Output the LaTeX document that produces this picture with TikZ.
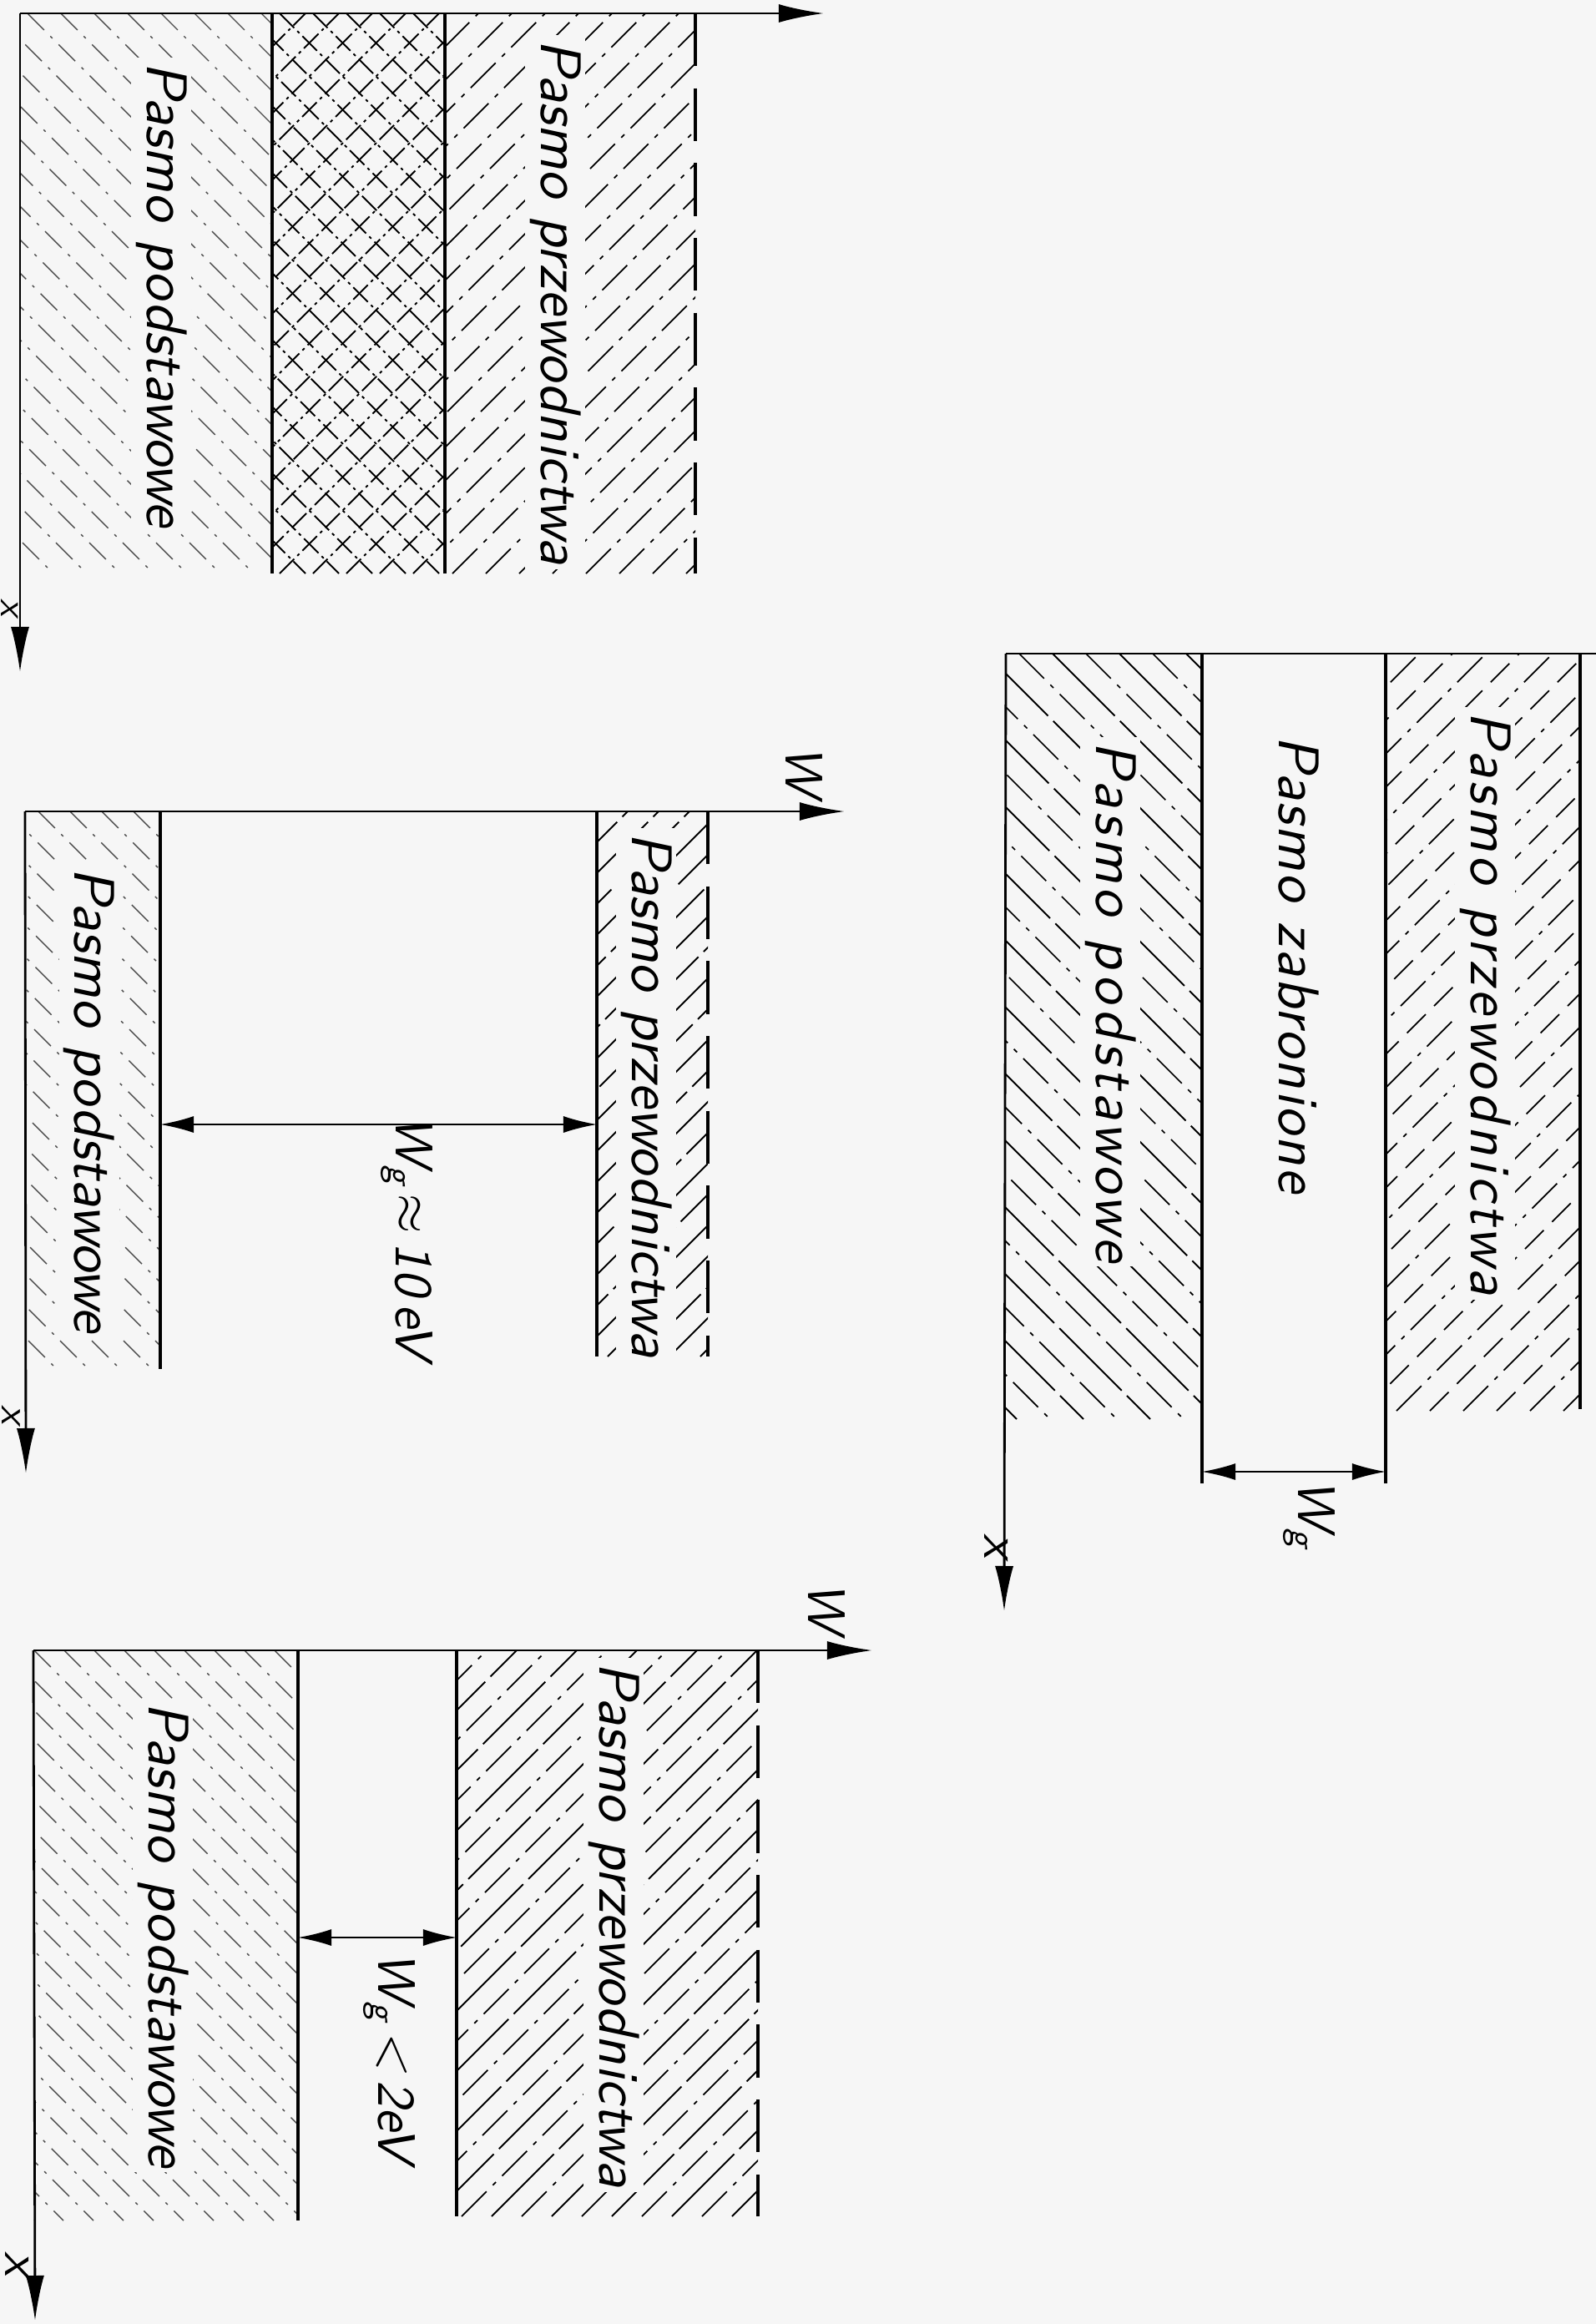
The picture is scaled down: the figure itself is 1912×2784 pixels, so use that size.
\documentclass[tikz,border=0pt]{standalone}
\usepackage{fontspec}
\setsansfont{lmsans10-regular.otf}[ItalicFont=lmsans10-oblique.otf, BoldFont=lmsans10-bold.otf]
\usetikzlibrary{arrows.meta}

\definecolor{paper}{gray}{0.965}

% kreskowanie pasma "\" : x1, y1, x2, y2, odstep, przesuniecie, styl
\newcommand{\hatchback}[7]{%
  \begin{scope}
    \clip (#1,#2) rectangle (#3,#4);
    \pgfmathsetmacro{\hh}{#4-#2}
    \pgfmathsetmacro{\hfirst}{#1-\hh+#6}
    \pgfmathsetmacro{\hsecond}{\hfirst+#5}
    \foreach \hx in {\hfirst,\hsecond,...,#3}
      \draw[#7] (\hx,#2) -- ++(\hh,\hh);
  \end{scope}}
% kreskowanie pasma "/" : x1, y1, x2, y2, odstep, przesuniecie, styl
\newcommand{\hatchfwd}[7]{%
  \begin{scope}
    \clip (#1,#2) rectangle (#3,#4);
    \pgfmathsetmacro{\hh}{#4-#2}
    \pgfmathsetmacro{\hfirst}{#1-\hh+#6}
    \pgfmathsetmacro{\hsecond}{\hfirst+#5}
    \foreach \hx in {\hfirst,\hsecond,...,#3}
      \draw[#7] (\hx,#4) -- ++(\hh,-\hh);
  \end{scope}}

\begin{document}
\begin{tikzpicture}[x=0.01cm, y=-0.01cm,
    axisline/.style={line width=0.8pt, -{Latex[length=0.54cm, width=0.22cm]}},
    bandedge/.style={line width=1.15pt},
    cutedge/.style={line width=1.15pt, dash pattern=on 18pt off 7.5pt},
    dimline/.style={line width=0.5pt, {Latex[length=0.4cm, width=0.2cm]}-{Latex[length=0.4cm, width=0.2cm]}},
    faintdashdot/.style={line width=0.4pt, black!70, dash pattern=on 8pt off 3pt on 1pt off 3pt},
    crossline/.style={line width=0.55pt, dash pattern=on 7pt off 1.5pt on 1pt off 1.5pt},
    hatchsolid/.style={line width=0.55pt, dash pattern=on 30pt off 2.5pt},
    hatchdashdot/.style={line width=0.5pt, dash pattern=on 12pt off 3pt on 1.5pt off 3pt},
    hatchdashed/.style={line width=0.5pt, dash pattern=on 9pt off 4pt},
    bandtext/.style={rotate=-90, inner sep=1.5pt, fill=paper,
      font=\sffamily\itshape\fontsize{19.5}{21}\selectfont},
    axistext/.style={rotate=-90, inner sep=0pt,
      font=\sffamily\itshape\fontsize{18}{20}\selectfont}]

    \fill[paper] (0,0) rectangle (1912,2784);
    \useasboundingbox (0,0) rectangle (1912,2784);

    % ---- Rysunek 1: pasma zachodzace na siebie ----
    \coordinate (o1) at (24,16);
    \coordinate (w1) at (987,16);
    \coordinate (x1) at (24,805);
    \hatchback{24}{16}{326}{687}{40}{0}{faintdashdot}
    \hatchback{326}{16}{533}{687}{40}{0}{crossline}
    \hatchfwd{326}{16}{533}{687}{40}{0}{crossline}
    \hatchfwd{533}{16}{833}{687}{40}{0}{hatchdashdot}
    \draw[bandedge] (326,16) -- (326,687);
    \draw[bandedge] (533,16) -- (533,687);
    \draw[cutedge] (833,16) -- (833,687);
    \draw[axisline] (o1) -- (w1);
    \draw[axisline] (o1) -- (x1);
    \node (podst1) [bandtext, anchor=base] at (176,353) {Pasmo podstawowe};
    \node (przew1) [bandtext, anchor=base] at (648,362) {Pasmo przewodnictwa};
    \node (xlab1) [axistext, font=\sffamily\itshape\fontsize{13}{15}\selectfont] at (12,728) {x};

    % ---- Rysunek 2: izolator ----
    \coordinate (o2) at (30,972);
    \coordinate (w2) at (1012,972);
    \coordinate (x2) at (31,1765);
    \hatchback{30}{972}{192}{1640}{38}{0}{faintdashdot}
    \hatchfwd{715}{972}{848}{1625}{37}{0}{hatchsolid}
    \draw[bandedge] (192,972) -- (192,1640);
    \draw[bandedge] (715,972) -- (715,1625);
    \draw[cutedge] (848,972) -- (848,1625);
    \draw[axisline] (o2) -- (w2);
    \draw[axisline] (o2) -- (x2);
    \coordinate (g2a) at (192,1347);
    \coordinate (g2b) at (715,1347);
    \draw[dimline] (g2a) -- (g2b);
    \node (podst2) [bandtext, anchor=base] at (90,1318) {Pasmo podstawowe};
    \node (przew2) [bandtext, anchor=base] at (757,1312) {Pasmo przewodnictwa};
    \node (wg2) [axistext] at (487,1482) {W\textsubscript{g}\,$\approx$\,10\,eV};
    \node (wlab2) [axistext] at (963,923) {W};
    \node (xlab2) [axistext, font=\sffamily\itshape\fontsize{14}{16}\selectfont] at (13,1695) {x};

    % ---- Rysunek 3: polprzewodnik ----
    \coordinate (o3) at (40,1977);
    \coordinate (w3) at (1045,1977);
    \coordinate (x3) at (42,2780);
    \hatchback{40}{1977}{357}{2660}{36}{0}{faintdashdot}
    \hatchfwd{547}{1977}{908}{2655}{72}{0}{hatchsolid}
    \hatchfwd{547}{1977}{908}{2655}{72}{36}{hatchdashdot}
    \draw[bandedge] (357,1977) -- (357,2660);
    \draw[bandedge] (547,1977) -- (547,2655);
    \draw[cutedge] (908,1977) -- (908,2655);
    \draw[axisline] (o3) -- (w3);
    \draw[axisline] (o3) -- (x3);
    \coordinate (g3a) at (357,2321);
    \coordinate (g3b) at (547,2321);
    \draw[dimline] (g3a) -- (g3b);
    \node (podst3) [bandtext, anchor=base] at (178,2318) {Pasmo podstawowe};
    \node (przew3) [bandtext, anchor=base] at (718,2306) {Pasmo przewodnictwa};
    \node (wg3) [axistext] at (466,2464) {W\textsubscript{g}\,<\,2eV};
    \node (wlab3) [axistext] at (990,1925) {W};
    \node (xlab3) [axistext] at (21,2712) {x};

    % ---- Rysunek 4: pasmo zabronione ----
    \coordinate (o4) at (1205,783);
    \coordinate (w4) at (1912,783);
    \coordinate (x4) at (1203,1930);
    \hatchback{1205}{783}{1440}{1700}{80}{13}{hatchsolid}
    \hatchback{1205}{783}{1440}{1700}{80}{53}{hatchdashdot}
    \hatchfwd{1660}{783}{1893}{1690}{80}{0}{hatchdashed}
    \hatchfwd{1660}{783}{1893}{1690}{80}{40}{hatchdashdot}
    \draw[bandedge] (1440,783) -- (1440,1777);
    \draw[bandedge] (1660,783) -- (1660,1777);
    \draw[bandedge] (1893,783) -- (1893,1688);
    \draw[axisline, -] (o4) -- (w4);
    \draw[axisline] (o4) -- (x4);
    \coordinate (g4a) at (1440,1763);
    \coordinate (g4b) at (1660,1763);
    \draw[dimline] (g4a) -- (g4b);
    \node (podst4) [bandtext, anchor=base,
      font=\sffamily\itshape\fontsize{19.5}{21}\selectfont\addfontfeatures{LetterSpace=7}]
      at (1313,1200) {Pasmo podstawowe};
    \node (zabr4) [bandtext, anchor=base,
      font=\sffamily\itshape\fontsize{19.5}{21}\selectfont\addfontfeatures{LetterSpace=3}]
      at (1532,1155) {Pasmo zabronione};
    \node (przew4) [bandtext, anchor=base,
      font=\sffamily\itshape\fontsize{19.5}{21}\selectfont\addfontfeatures{LetterSpace=6}]
      at (1762,1202) {Pasmo przewodnictwa};
    \node (wg4) [axistext] at (1568,1814) {W\textsubscript{g}};
    \node (xlab4) [axistext] at (1194,1852) {x};
\end{tikzpicture}
\end{document}
